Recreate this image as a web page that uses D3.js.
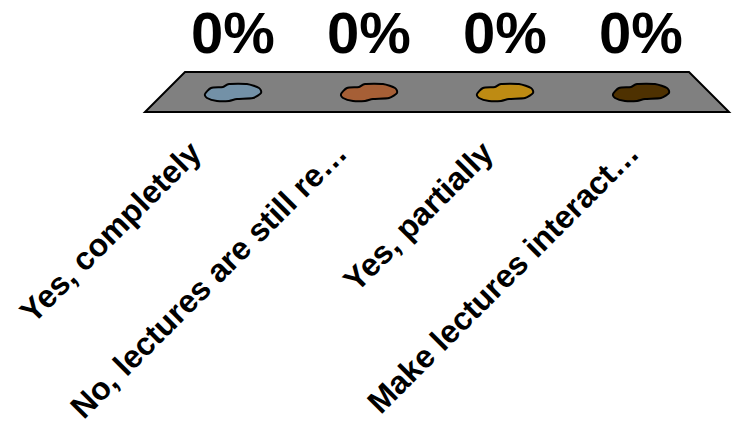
<!DOCTYPE html>
<html>
<head>
<meta charset="utf-8">
<script src="https://cdn.jsdelivr.net/npm/d3@7"></script>
<style>
  html, body { margin: 0; padding: 0; background: #ffffff; }
  svg { display: block; }
  text { font-family: "Liberation Sans", Arial, sans-serif; font-weight: bold; fill: #000; }
</style>
</head>
<body>
<svg id="chart" width="735" height="426"></svg>
<script>
// Poll responses (share of votes per option)
const categories = [
  "Yes, completely",
  "No, lectures are still re\u2026",
  "Yes, partially",
  "Make lectures interact\u2026"
];
const values = [0, 0, 0, 0];
const colors = ["#7391a7", "#a65f36", "#be8b13", "#4e3101"];

const svg = d3.select("#chart");

// Floor geometry (perspective: back edge narrower than front edge)
const backY = 72, frontY = 112, midY = (backY + frontY) / 2;
const xBack  = d3.scaleBand().domain(categories).range([185, 689]);
const xFront = d3.scaleBand().domain(categories).range([145, 729]);
const xMid   = d3.scaleBand().domain(categories).range([165, 709]);

// Bar height scale (values are shares 0..1)
const y = d3.scaleLinear().domain([0, 1]).range([0, 60]);

// Floor
const floorPts = [
  [xBack.range()[0], backY], [xBack.range()[1], backY],
  [xFront.range()[1], frontY], [xFront.range()[0], frontY]
];
svg.append("path")
  .attr("d", d3.line()(floorPts) + "Z")
  .attr("fill", "#808080")
  .attr("stroke", "#000")
  .attr("stroke-width", 2)
  .attr("stroke-linejoin", "miter");

// Bars: with a zero value only the flattened cap of each bar is visible
const capShape = [[-28, 2], [-22, -4], [-10, -5], [-4, -8], [14, -8], [26, -4],
                  [28, 1], [20, 6], [4, 7], [-4, 9], [-16, 9], [-26, 6]];
const capLine = d3.line().curve(d3.curveCardinalClosed.tension(0.3));

const bars = svg.append("g").selectAll("g")
  .data(categories.map((c, i) => ({ c, v: values[i], color: colors[i] })))
  .join("g")
  .attr("transform", d => `translate(${xMid(d.c) + xMid.bandwidth() / 2},${midY - y(d.v)})`);

bars.append("path")
  .attr("d", capLine(capShape))
  .attr("fill", d => d.color)
  .attr("stroke", "#000")
  .attr("stroke-width", 2);

// Value labels
svg.append("g").selectAll("text")
  .data(categories.map((c, i) => ({ c, v: values[i] })))
  .join("text")
  .attr("x", d => xMid(d.c) + xMid.bandwidth() / 2)
  .attr("y", 53)
  .attr("text-anchor", "middle")
  .attr("font-size", 58)
  .text(d => d3.format(".0%")(d.v));

// Category labels, rotated
svg.append("g").selectAll("text")
  .data(categories)
  .join("text")
  .attr("text-anchor", "end")
  .attr("font-size", 32)
  .attr("transform", c => `translate(${xFront(c) + xFront.bandwidth() / 2 - 15},155) rotate(-45)`)
  .text(c => c);
</script>
</body>
</html>
